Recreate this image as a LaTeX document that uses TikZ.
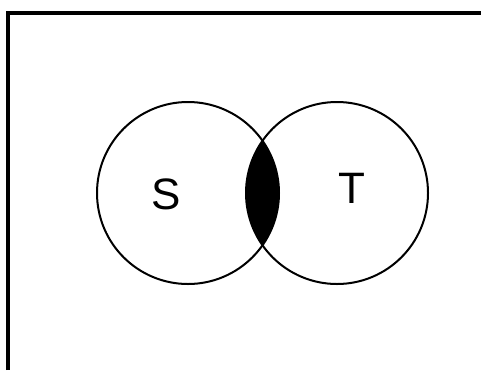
\documentclass[tikz,border=0pt]{standalone}
\usepackage{fontspec}
\setmainfont{Liberation Sans}
\begin{document}
\begin{tikzpicture}[x=1pt,y=-1pt,
  setcirc/.style={draw=black,line width=2pt},
  frameline/.style={draw=black,line width=4pt},
  lbl/.style={font=\fontsize{44}{44}\selectfont,inner sep=0pt,anchor=center}]
\useasboundingbox (0,0) rectangle (481,370);
\coordinate (sc) at (188,193);
\coordinate (tc) at (337,193);
\begin{scope}
  \clip (sc) circle[radius=91];
  \fill[black] (tc) circle[radius=91];
\end{scope}
\draw[setcirc] (sc) circle[radius=91];
\draw[setcirc] (tc) circle[radius=91];
\node[lbl] (s) at (166,194) {S};
\node[lbl] (t) at (352,188) {T};
\coordinate (fc) at (8,13);
\coordinate (ftr) at (481,13);
\coordinate (fbl) at (8,370);
\draw[frameline] (fbl) -- (fc) -- (ftr);
\end{tikzpicture}
\end{document}
